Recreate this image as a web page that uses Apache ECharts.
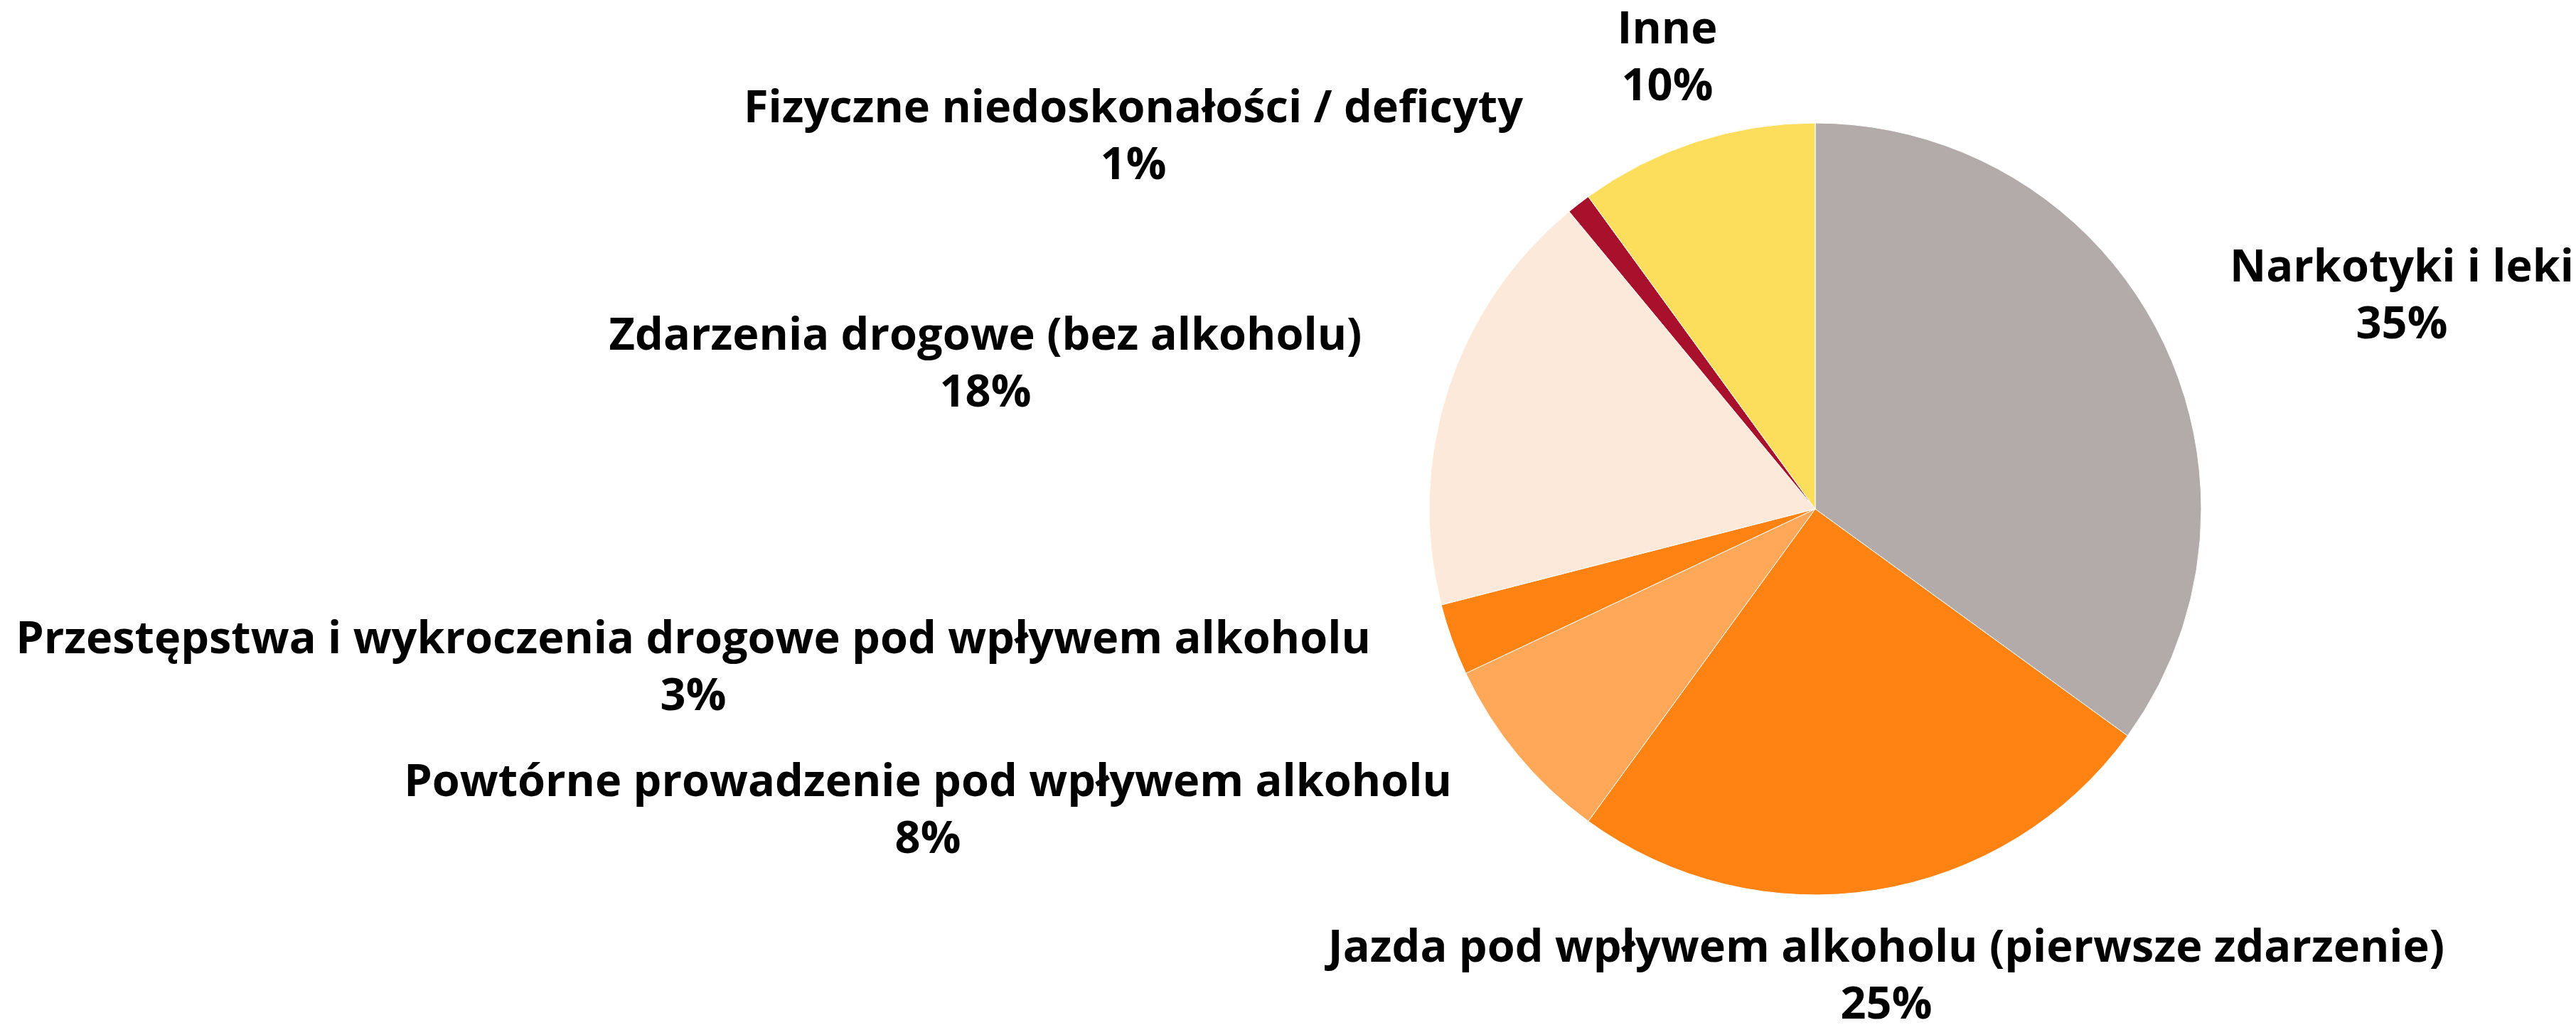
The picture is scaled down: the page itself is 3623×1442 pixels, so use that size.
<!DOCTYPE html>
<html>
<head>
<meta charset="utf-8">
<script src="https://cdn.jsdelivr.net/npm/echarts@6/dist/echarts.min.js"></script>
<style>
  html, body { margin: 0; padding: 0; background: #fff; }
  #main { width: 3623px; height: 1442px; }
</style>
</head>
<body>
<div id="main"></div>
<script>
// kategorie i udziały (%) - od godziny 12, zgodnie z ruchem wskazówek
var categories = [
  'Narkotyki i leki',
  'Jazda pod wpływem alkoholu (pierwsze zdarzenie)',
  'Powtórne prowadzenie pod wpływem alkoholu',
  'Przestępstwa i wykroczenia drogowe pod wpływem alkoholu',
  'Zdarzenia drogowe (bez alkoholu)',
  'Fizyczne niedoskonałości / deficyty',
  'Inne'
];
var shares = [35, 25, 8, 3, 18, 1, 10];
var colors = ['#B3ABA9', '#FF8312', '#FFA85A', '#FF8312', '#FDE9DA', '#A8102C', '#FDDD5C'];

// gdzie stoją etykiety (środek bloku tekstu)
var labelPos = [
  [3378, 418],
  [2653, 1375],
  [1305, 1142],
  [975, 941],
  [1386, 514],
  [1594, 194],
  [2345, 83]
];

var myChart = echarts.init(document.getElementById('main'));

var pieData = categories.map(function (name, i) {
  return { name: name, value: shares[i], itemStyle: { color: colors[i] } };
});

var option = {
  backgroundColor: '#fff',
  animation: false,
  series: [{
    type: 'pie',
    center: [2553, 716],
    radius: [0, 543],
    startAngle: 90,
    clockwise: true,
    data: pieData,
    itemStyle: {
      borderColor: '#fff',
      borderWidth: 1
    },
    label: {
      show: true,
      position: 'outside',
      formatter: function (p) {
        return p.name + '\n' + Math.round(p.percent) + '%';
      },
      color: '#000',
      fontFamily: 'Open Sans',
      fontWeight: 'bold',
      fontSize: 63,
      lineHeight: 80,
      align: 'center',
      overflow: 'none'
    },
    labelLine: { show: false },
    labelLayout: function (params) {
      var pos = labelPos[params.dataIndex];
      return {
        x: pos[0],
        y: pos[1],
        align: 'center',
        verticalAlign: 'middle',
        hideOverlap: false
      };
    },
    emphasis: { disabled: true }
  }]
};

myChart.setOption(option);
</script>
</body>
</html>
